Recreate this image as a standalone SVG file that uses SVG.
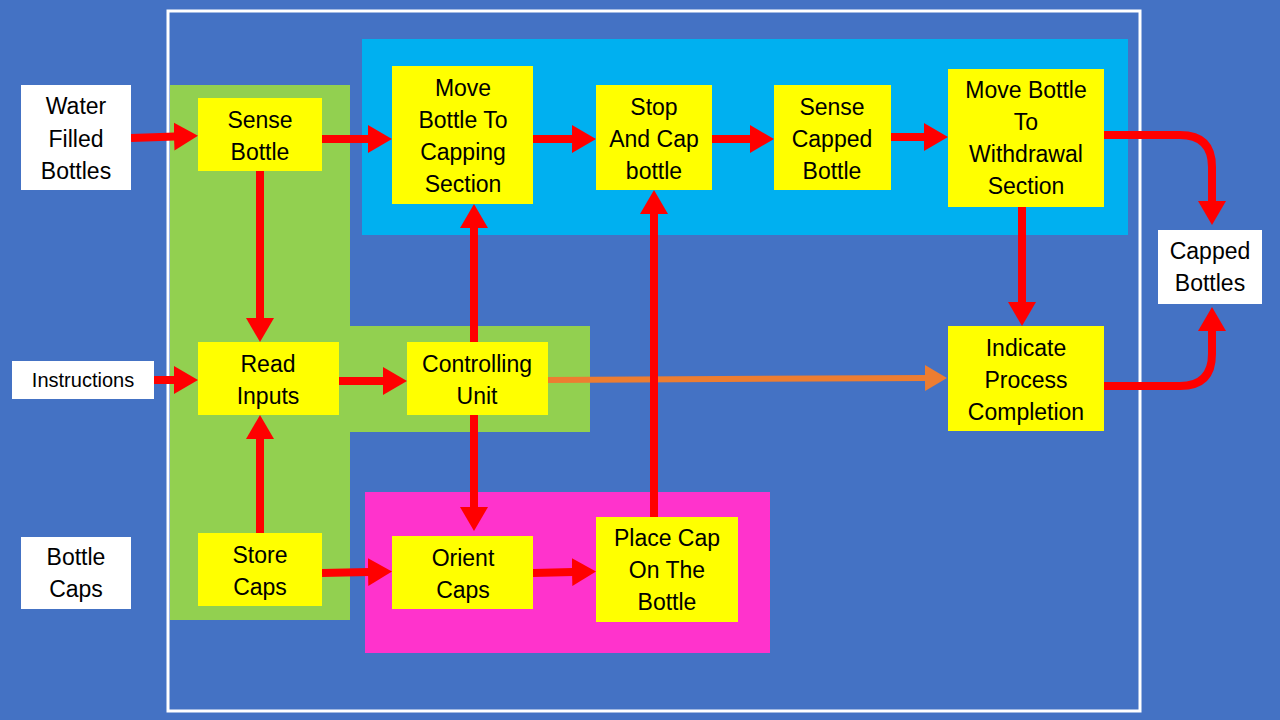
<svg xmlns="http://www.w3.org/2000/svg" width="1280" height="720" viewBox="0 0 1280 720">
<defs>
<style>
.t{font-family:"Liberation Sans",Arial,sans-serif;font-size:23px;fill:#000;text-anchor:middle}
.s{font-size:20px}
.y{fill:#FFFF00}
.w{fill:#FFFFFF}
.c{fill:none;stroke:#FF0000;stroke-width:8}
.o{fill:none;stroke:#ED7D31;stroke-width:6}
</style>
<marker id="ah" markerUnits="userSpaceOnUse" markerWidth="26" markerHeight="28" refX="1" refY="14" orient="auto">
<path d="M0,0 L24,14 L0,28 z" fill="#FF0000"/>
</marker>
<marker id="ao" markerUnits="userSpaceOnUse" markerWidth="24" markerHeight="26" refX="1" refY="13" orient="auto">
<path d="M0,0 L22,13 L0,26 z" fill="#ED7D31"/>
</marker>
</defs>
<rect x="0" y="0" width="1280" height="720" fill="#4472C4"/>
<rect x="168" y="11" width="972" height="700" fill="none" stroke="#FFFFFF" stroke-width="3"/>
<g id="regions">
<path d="M170,85 H350 V326 H590 V432 H350 V620 H170 Z" fill="#92D050"/>
<rect x="362" y="39" width="766" height="196" fill="#00B0F0"/>
<rect x="365" y="492" width="405" height="161" fill="#FF33CC"/>
</g>
<g id="connectors">
<path class="c" d="M131,138 L175,136.5" marker-end="url(#ah)"/>
<path class="c" d="M322,139 H369" marker-end="url(#ah)"/>
<path class="c" d="M533,139 H573" marker-end="url(#ah)"/>
<path class="c" d="M712,139 H751" marker-end="url(#ah)"/>
<path class="c" d="M891,137 H925" marker-end="url(#ah)"/>
<path class="c" d="M1104,135 H1180 Q1212,135 1212,167 V202" marker-end="url(#ah)"/>
<path class="c" d="M1104,386 H1180 Q1212,386 1212,354 V330" marker-end="url(#ah)"/>
<path class="c" d="M260,171 V319" marker-end="url(#ah)"/>
<path class="c" d="M260,533 V438" marker-end="url(#ah)"/>
<path class="c" d="M154,380 H175" marker-end="url(#ah)"/>
<path class="c" d="M339,381 H384" marker-end="url(#ah)"/>
<path class="c" d="M474,342 V227" marker-end="url(#ah)"/>
<path class="c" d="M474,415 V508" marker-end="url(#ah)"/>
<path class="o" d="M548,380 L926,378" marker-end="url(#ao)"/>
<path class="c" d="M322,573 L369,572" marker-end="url(#ah)"/>
<path class="c" d="M533,573 L573,572" marker-end="url(#ah)"/>
<path class="c" d="M654,517 V213" marker-end="url(#ah)"/>
<path class="c" d="M1022,207 V303" marker-end="url(#ah)"/>
</g>
<g id="water-filled-bottles">
<rect class="w" x="21" y="85" width="110" height="105"/>
<text class="t" x="76" y="106" dy="0.35em">Water</text>
<text class="t" x="76" y="139" dy="0.35em">Filled</text>
<text class="t" x="76" y="171" dy="0.35em">Bottles</text>
</g>
<g id="instructions">
<rect class="w" x="12" y="361" width="142" height="38"/>
<text class="t s" x="83" y="380" dy="0.35em">Instructions</text>
</g>
<g id="bottle-caps">
<rect class="w" x="21" y="537" width="110" height="72"/>
<text class="t" x="76" y="557" dy="0.35em">Bottle</text>
<text class="t" x="76" y="589" dy="0.35em">Caps</text>
</g>
<g id="capped-bottles">
<rect class="w" x="1158" y="230" width="104" height="74"/>
<text class="t" x="1210" y="251" dy="0.35em">Capped</text>
<text class="t" x="1210" y="283" dy="0.35em">Bottles</text>
</g>
<g id="sense-bottle">
<rect class="y" x="198" y="98" width="124" height="73"/>
<text class="t" x="260" y="120" dy="0.35em">Sense</text>
<text class="t" x="260" y="152" dy="0.35em">Bottle</text>
</g>
<g id="move-bottle-capping">
<rect class="y" x="392" y="66" width="141" height="138"/>
<text class="t" x="463" y="88" dy="0.35em">Move</text>
<text class="t" x="463" y="120" dy="0.35em">Bottle To</text>
<text class="t" x="463" y="152" dy="0.35em">Capping</text>
<text class="t" x="463" y="184" dy="0.35em">Section</text>
</g>
<g id="stop-and-cap">
<rect class="y" x="596" y="85" width="116" height="105"/>
<text class="t" x="654" y="107" dy="0.35em">Stop</text>
<text class="t" x="654" y="139" dy="0.35em">And Cap</text>
<text class="t" x="654" y="171" dy="0.35em">bottle</text>
</g>
<g id="sense-capped-bottle">
<rect class="y" x="774" y="85" width="117" height="105"/>
<text class="t" x="832" y="107" dy="0.35em">Sense</text>
<text class="t" x="832" y="139" dy="0.35em">Capped</text>
<text class="t" x="832" y="171" dy="0.35em">Bottle</text>
</g>
<g id="move-bottle-withdrawal">
<rect class="y" x="948" y="69" width="156" height="138"/>
<text class="t" x="1026" y="90" dy="0.35em">Move Bottle</text>
<text class="t" x="1026" y="122" dy="0.35em">To</text>
<text class="t" x="1026" y="154" dy="0.35em">Withdrawal</text>
<text class="t" x="1026" y="186" dy="0.35em">Section</text>
</g>
<g id="read-inputs">
<rect class="y" x="198" y="342" width="141" height="73"/>
<text class="t" x="268" y="364" dy="0.35em">Read</text>
<text class="t" x="268" y="396" dy="0.35em">Inputs</text>
</g>
<g id="controlling-unit">
<rect class="y" x="407" y="342" width="141" height="73"/>
<text class="t" x="477" y="364" dy="0.35em">Controlling</text>
<text class="t" x="477" y="396" dy="0.35em">Unit</text>
</g>
<g id="indicate-process-completion">
<rect class="y" x="948" y="326" width="156" height="105"/>
<text class="t" x="1026" y="348" dy="0.35em">Indicate</text>
<text class="t" x="1026" y="380" dy="0.35em">Process</text>
<text class="t" x="1026" y="412" dy="0.35em">Completion</text>
</g>
<g id="store-caps">
<rect class="y" x="198" y="533" width="124" height="73"/>
<text class="t" x="260" y="555" dy="0.35em">Store</text>
<text class="t" x="260" y="587" dy="0.35em">Caps</text>
</g>
<g id="orient-caps">
<rect class="y" x="392" y="536" width="141" height="73"/>
<text class="t" x="463" y="558" dy="0.35em">Orient</text>
<text class="t" x="463" y="590" dy="0.35em">Caps</text>
</g>
<g id="place-cap">
<rect class="y" x="596" y="517" width="142" height="105"/>
<text class="t" x="667" y="538" dy="0.35em">Place Cap</text>
<text class="t" x="667" y="570" dy="0.35em">On The</text>
<text class="t" x="667" y="602" dy="0.35em">Bottle</text>
</g>
</svg>
